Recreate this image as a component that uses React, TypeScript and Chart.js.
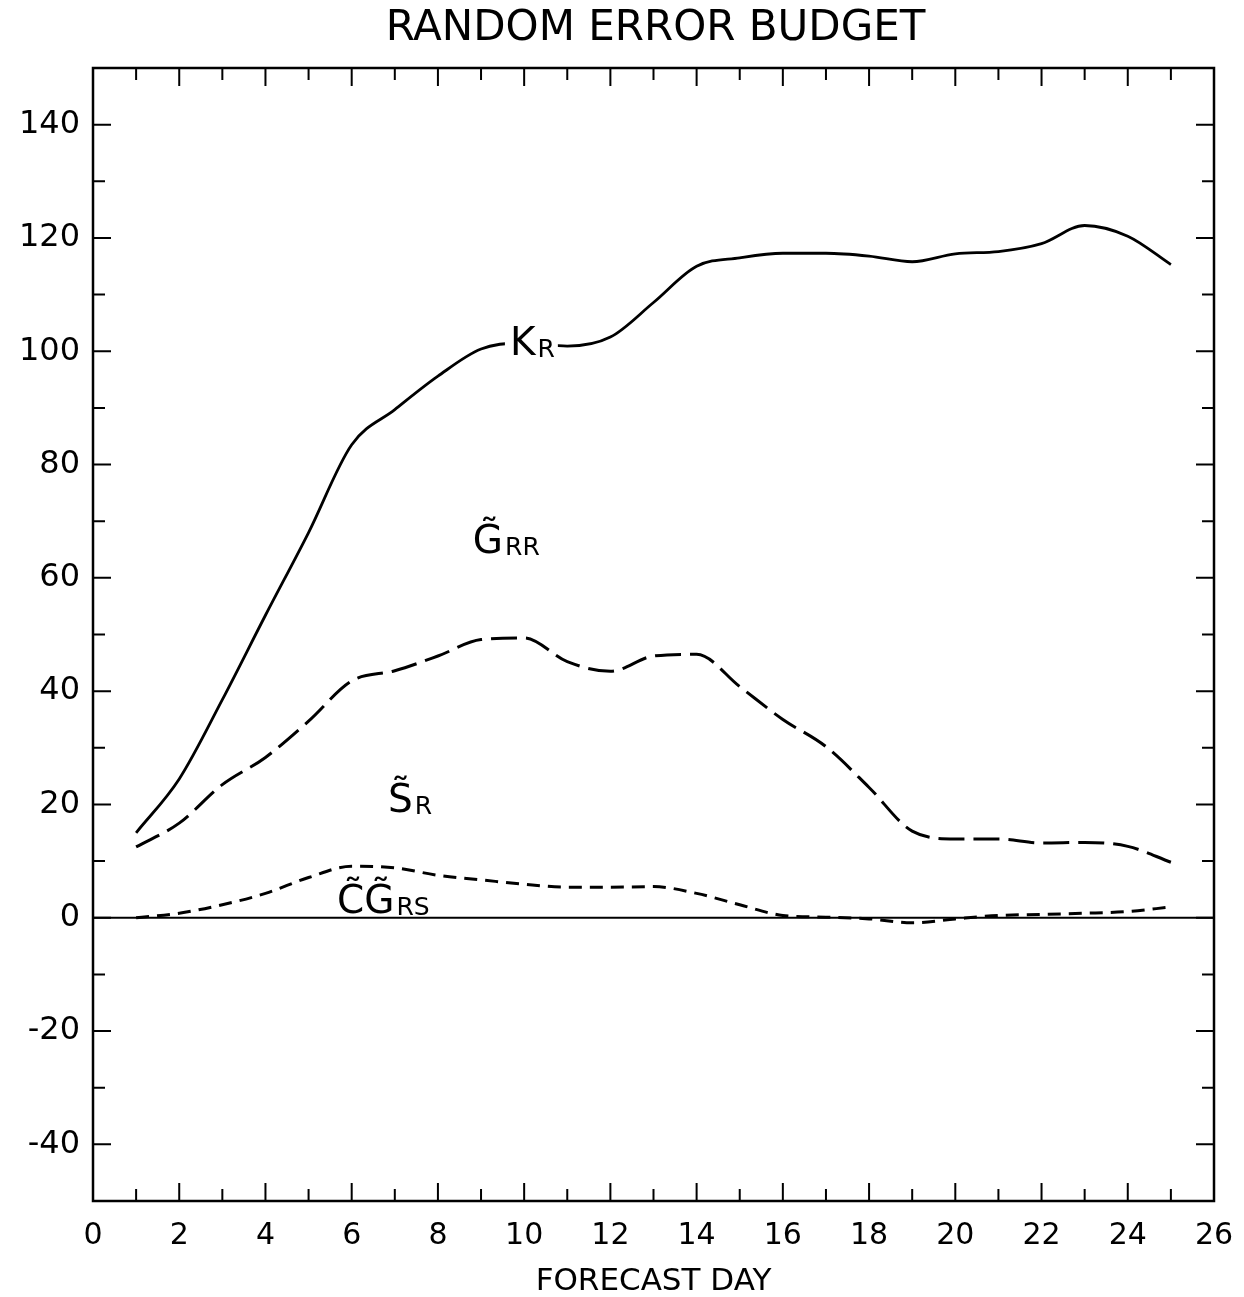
import React, { useEffect, useRef } from "react";
import { Chart, registerables } from "chart.js";

Chart.register(...registerables);

// ---- data ----
const days = [1, 2, 3, 4, 5, 6, 7, 8, 9, 10, 11, 12, 13, 14, 15, 16, 17, 18, 19, 20, 21, 22, 23, 24, 25];

const kR = [15, 24.5, 38.5, 53.4, 68, 83.5, 89.7, 95.6, 100.4, 101.5, 100.9, 102.5, 108.6, 115, 116.5, 117.3, 117.3, 116.8, 115.8, 117.2, 117.6, 119, 122.2, 120.3, 115.3];

const gRR = [12.5, 16.7, 23.5, 28.3, 34.7, 41.8, 43.6, 46.2, 49.1, 49.4, 45.2, 43.5, 46.2, 46.5, 40.8, 35, 30.2, 23, 15.3, 13.9, 13.9, 13.2, 13.3, 12.6, 9.8];

const cgRS = [0, 0.8, 2.3, 4.3, 7.1, 9.1, 8.8, 7.5, 6.7, 5.9, 5.4, 5.4, 5.5, 4.3, 2.3, 0.4, 0.1, -0.2, -0.9, -0.2, 0.4, 0.6, 0.8, 1.1, 1.9];

const xLabelValues = [0, 2, 4, 6, 8, 10, 12, 14, 16, 18, 20, 22, 24, 26];
const yLabelValues = [-40, -20, 0, 20, 40, 60, 80, 100, 120, 140];

const titleText = "RANDOM ERROR BUDGET";

// curve annotations (anchor = left edge / baseline of text, in data units)
const curveLabels = [
  { main: "K", sub: "R", x: 9.67, y: 99.3, knockout: true },
  { main: "G\u0303", sub: "RR", x: 8.81, y: 64.4, knockout: false },
  { main: "S\u0303", sub: "R", x: 6.84, y: 18.7, knockout: false },
  { main: "C\u0303G\u0303", sub: "RS", x: 5.66, y: 0.9, knockout: false },
];

const FONT = "'DejaVu Sans', sans-serif";

const framePlugin = {
  id: "framePlugin",
  beforeDatasetsDraw(chart: any) {
    const { ctx, chartArea } = chart;
    const ys = chart.scales.y;
    const y0 = ys.getPixelForValue(0);
    ctx.save();
    ctx.strokeStyle = "#000";
    ctx.lineWidth = 2;
    ctx.beginPath();
    ctx.moveTo(chartArea.left, y0);
    ctx.lineTo(chartArea.right, y0);
    ctx.stroke();
    ctx.restore();
  },
  afterDatasetsDraw(chart: any) {
    const { ctx, chartArea } = chart;
    const { left, right, top, bottom } = chartArea;
    const xs = chart.scales.x;
    const ys = chart.scales.y;
    ctx.save();
    ctx.strokeStyle = "#000";
    ctx.lineWidth = 2.5;
    ctx.strokeRect(left, top, right - left, bottom - top);

    // inward ticks
    ctx.lineWidth = 2;
    ctx.beginPath();
    for (let v = ys.min + 10; v < ys.max; v += 10) {
      const py = ys.getPixelForValue(v);
      const len = v % 20 === 0 ? 18 : 12;
      ctx.moveTo(left, py);
      ctx.lineTo(left + len, py);
      ctx.moveTo(right, py);
      ctx.lineTo(right - len, py);
    }
    for (let v = xs.min + 1; v < xs.max; v += 1) {
      const px = xs.getPixelForValue(v);
      const len = v % 2 === 0 ? 18 : 12;
      ctx.moveTo(px, top);
      ctx.lineTo(px, top + len);
      ctx.moveTo(px, bottom);
      ctx.lineTo(px, bottom - len);
    }
    ctx.stroke();

    // title, centred over the plot frame
    ctx.fillStyle = "#000";
    ctx.font = `42px ${FONT}`;
    ctx.textAlign = "center";
    ctx.textBaseline = "middle";
    ctx.fillText(titleText, (left + right) / 2 + 2, 29);

    // curve labels
    const mainSize = 39;
    const subSize = 25;
    ctx.textAlign = "left";
    ctx.textBaseline = "alphabetic";
    for (const lab of curveLabels) {
      const px = xs.getPixelForValue(lab.x);
      const py = ys.getPixelForValue(lab.y);
      ctx.font = `${mainSize}px ${FONT}`;
      const mw = ctx.measureText(lab.main).width;
      ctx.font = `${subSize}px ${FONT}`;
      const sw = ctx.measureText(lab.sub).width;
      if (lab.knockout) {
        ctx.fillStyle = "#fff";
        ctx.fillRect(px - 5, py - mainSize * 0.78, mw + sw + 10, mainSize * 0.82);
      }
      ctx.fillStyle = "#000";
      ctx.font = `${mainSize}px ${FONT}`;
      ctx.fillText(lab.main, px, py);
      ctx.font = `${subSize}px ${FONT}`;
      ctx.fillText(lab.sub, px + mw + 2, py + 2);
    }
    ctx.restore();
  },
};

export default function App() {
  const canvasRef = useRef<HTMLCanvasElement | null>(null);

  useEffect(() => {
    const canvas = canvasRef.current;
    if (!canvas) return;
    const toPts = (arr: number[]) => days.map((d, i) => ({ x: d, y: arr[i] }));
    const base = {
      borderColor: "#000",
      backgroundColor: "#000",
      borderWidth: 3,
      pointRadius: 0,
      fill: false,
      cubicInterpolationMode: "monotone" as const,
      borderCapStyle: "butt" as const,
    };
    const chart = new Chart(canvas, {
      type: "line",
      data: {
        datasets: [
          { ...base, label: "K_R", data: toPts(kR), borderWidth: 2.8 },
          { ...base, label: "G_RR", data: toPts(gRR), borderDash: [26, 9] },
          { ...base, label: "CG_RS", data: toPts(cgRS), borderDash: [13, 8] },
        ],
      },
      options: {
        responsive: false,
        animation: false,
        devicePixelRatio: 1,
        layout: { padding: { left: 0, right: 30, top: 68, bottom: 0 } },
        plugins: {
          legend: { display: false },
          tooltip: { enabled: false },
          title: { display: false },
        },
        scales: {
          x: {
            type: "linear",
            min: 0,
            max: 26,
            afterFit: (s: any) => {
              s.height = 96;
              s.paddingLeft = 0;
              s.paddingRight = 0;
            },
            grid: { display: false, drawTicks: false },
            border: { display: false },
            ticks: {
              stepSize: 1,
              autoSkip: false,
              maxRotation: 0,
              padding: 17,
              color: "#000",
              font: { family: FONT, size: 30 },
              callback: (v: any) => (xLabelValues.includes(Number(v)) ? String(v) : ""),
            },
            title: {
              display: true,
              text: "FORECAST DAY",
              color: "#000",
              font: { family: FONT, size: 31, lineHeight: 1.0 },
              padding: { top: 0, bottom: 0 },
            },
          },
          y: {
            type: "linear",
            min: -50,
            max: 150,
            afterFit: (s: any) => {
              s.width = 93;
              s.paddingTop = 0;
              s.paddingBottom = 0;
            },
            grid: { display: false, drawTicks: false },
            border: { display: false },
            ticks: {
              stepSize: 10,
              autoSkip: false,
              padding: 13,
              color: "#000",
              font: { family: FONT, size: 32 },
              callback: (v: any) => (yLabelValues.includes(Number(v)) ? String(v) : ""),
            },
          },
        },
      },
      plugins: [framePlugin],
    });
    return () => chart.destroy();
  }, []);

  return (
    <div style={{ position: "absolute", left: 0, top: 0, width: 1244, height: 1297, background: "#fff" }}>
      <canvas ref={canvasRef} width={1244} height={1297} style={{ display: "block", width: 1244, height: 1297 }} />
    </div>
  );
}
